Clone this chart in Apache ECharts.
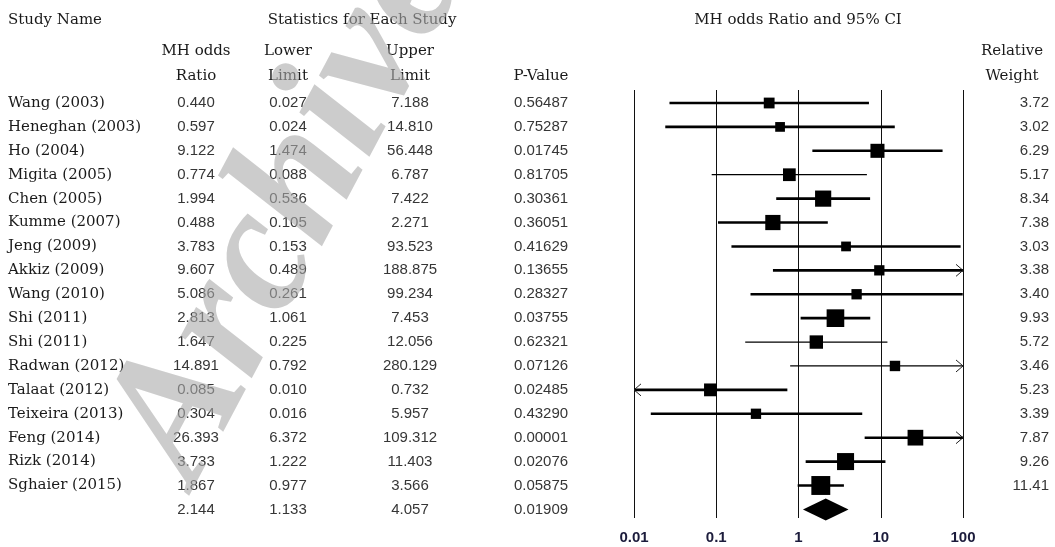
<!DOCTYPE html>
<html>
<head>
<meta charset="utf-8">
<script src="https://cdn.jsdelivr.net/npm/echarts@6/dist/echarts.min.js"></script>
<style>
  html, body { margin: 0; padding: 0; background: #ffffff; }
  #chart { width: 1055px; height: 547px; }
</style>
</head>
<body>
<div id="chart"></div>
<script>
// Study-level results (Mantel-Haenszel odds ratios with 95% CI)
const studies = [
  'Wang (2003)', 'Heneghan (2003)', 'Ho (2004)', 'Migita (2005)', 'Chen (2005)',
  'Kumme (2007)', 'Jeng (2009)', 'Akkiz (2009)', 'Wang (2010)', 'Shi (2011)',
  'Shi (2011)', 'Radwan (2012)', 'Talaat (2012)', 'Teixeira (2013)', 'Feng (2014)',
  'Rizk (2014)', 'Sghaier (2015)'
];
const oddsRatio = [0.440, 0.597, 9.122, 0.774, 1.994, 0.488, 3.783, 9.607, 5.086, 2.813,
  1.647, 14.891, 0.085, 0.304, 26.393, 3.733, 1.867];
const lowerLimit = [0.027, 0.024, 1.474, 0.088, 0.536, 0.105, 0.153, 0.489, 0.261, 1.061,
  0.225, 0.792, 0.010, 0.016, 6.372, 1.222, 0.977];
const upperLimit = [7.188, 14.810, 56.448, 6.787, 7.422, 2.271, 93.523, 188.875, 99.234, 7.453,
  12.056, 280.129, 0.732, 5.957, 109.312, 11.403, 3.566];
const pValue = [0.56487, 0.75287, 0.01745, 0.81705, 0.30361, 0.36051, 0.41629, 0.13655, 0.28327,
  0.03755, 0.62321, 0.07126, 0.02485, 0.43290, 0.00001, 0.02076, 0.05875];
const relativeWeight = [3.72, 3.02, 6.29, 5.17, 8.34, 7.38, 3.03, 3.38, 3.40, 9.93,
  5.72, 3.46, 5.23, 3.39, 7.87, 9.26, 11.41];

// Pooled estimate: [odds ratio, lower, upper, p-value]
const pooled = [2.144, 1.133, 4.057, 0.01909];

// Log-scale ticks of the forest plot
const axisTicks = [0.01, 0.1, 1, 10, 100];

// ---- layout and style ----
const SERIF = '"DejaVu Serif", serif';
const SANS = '"Liberation Sans", Arial, sans-serif';
const NUM_FONT = '15px ' + SANS;
const NUM_COLOR = '#363636';
const HEAD_COLOR = '#1a1a1a';
const thinRows = new Set([3, 10, 11]);       // rows drawn with a hairline CI
const col = { name: 8, or: 196, lo: 288, up: 410, p: 541, w: 1049 };
const xMin = axisTicks[0], xMax = axisTicks[axisTicks.length - 1];
const nRows = studies.length;                 // pooled row sits at index nRows

const tableRows = [];
for (let i = 0; i < nRows; i++) {
  tableRows.push([oddsRatio[i], i, lowerLimit[i], upperLimit[i], pValue[i], relativeWeight[i]]);
}
const pooledRow = [pooled[0], nRows, pooled[1], pooled[2], pooled[3]];

function numText(x, y, text, align) {
  return {
    type: 'text', x: x, y: y,
    style: { text: text, font: NUM_FONT, fill: NUM_COLOR, align: align || 'center', verticalAlign: 'middle' }
  };
}

function chevron(x, y, dir) {
  // open arrow head marking a CI that runs past the axis
  const d = 7 * dir;
  return {
    type: 'polyline',
    shape: { points: [[x - d, y - 6], [x, y], [x - d, y + 6]] },
    style: { stroke: '#222', lineWidth: 1, fill: null }
  };
}

const chart = echarts.init(document.getElementById('chart'), null, { renderer: 'canvas' });

const headerText = (x, y, text, align) => ({
  type: 'text', x: x, y: y, z: 10,
  style: { text: text, font: '15px ' + SERIF, fill: HEAD_COLOR, align: align || 'center', verticalAlign: 'middle' }
});

chart.setOption({
  animation: false,
  backgroundColor: '#ffffff',
  grid: { left: 634, width: 329, top: 90, height: 428, containLabel: false },
  xAxis: {
    type: 'log', logBase: 10, min: xMin, max: xMax,
    axisLine: { show: false },
    axisTick: { show: false },
    splitLine: { show: true, lineStyle: { color: '#111', width: 1 } },
    axisLabel: {
      margin: 12,
      fontFamily: SANS, fontWeight: 'bold', fontSize: 15, color: '#1c1c3c',
      formatter: v => String(+v.toPrecision(6))
    }
  },
  yAxis: {
    type: 'value', inverse: true, min: -0.544, max: 17.36, show: false
  },
  series: [
    {
      // confidence intervals and weighted point estimates
      type: 'custom',
      data: tableRows,
      encode: { x: 0, y: 1 },
      z: 3,
      renderItem(params, api) {
        const or = api.value(0), i = api.value(1), lo = api.value(2), up = api.value(3), w = api.value(5);
        const y = api.coord([or, i])[1];
        const x0 = api.coord([Math.max(lo, xMin), i])[0];
        const x1 = api.coord([Math.min(up, xMax), i])[0];
        const xm = api.coord([or, i])[0];
        const size = 5.6 * Math.sqrt(w);
        const children = [{
          type: 'line',
          shape: { x1: x0, y1: y, x2: x1, y2: y },
          style: { stroke: '#000', lineWidth: thinRows.has(i) ? 1.2 : 2.6 }
        }, {
          type: 'rect',
          shape: { x: xm - size / 2, y: y - size / 2, width: size, height: size },
          style: { fill: '#000' }
        }];
        if (up > xMax) children.push(chevron(x1, y, 1));
        if (lo <= xMin) children.push(chevron(x0, y, -1));
        return { type: 'group', children: children };
      }
    },
    {
      // pooled estimate diamond
      type: 'custom',
      data: [pooledRow],
      encode: { x: 0, y: 1 },
      z: 3,
      renderItem(params, api) {
        const i = api.value(1);
        const c = api.coord([api.value(0), i]);
        const l = api.coord([api.value(2), i])[0];
        const r = api.coord([api.value(3), i])[0];
        return {
          type: 'polygon',
          shape: { points: [[l, c[1]], [c[0], c[1] - 11], [r, c[1]], [c[0], c[1] + 11]] },
          style: { fill: '#000' }
        };
      }
    },
    {
      // statistics table, one line per study
      type: 'custom',
      data: tableRows,
      encode: { x: 0, y: 1 },
      z: 2,
      clip: false,
      renderItem(params, api) {
        const i = api.value(1);
        const y = api.coord([1, i])[1];
        return {
          type: 'group',
          children: [
            { type: 'text', x: col.name, y: y,
              style: { text: studies[i], font: '15px ' + SERIF, fill: HEAD_COLOR, align: 'left', verticalAlign: 'middle' } },
            numText(col.or, y, api.value(0).toFixed(3)),
            numText(col.lo, y, api.value(2).toFixed(3)),
            numText(col.up, y, api.value(3).toFixed(3)),
            numText(col.p, y, api.value(4).toFixed(5)),
            numText(col.w, y, api.value(5).toFixed(2), 'right')
          ]
        };
      }
    },
    {
      // pooled line of the table
      type: 'custom',
      data: [pooledRow],
      encode: { x: 0, y: 1 },
      z: 2,
      clip: false,
      renderItem(params, api) {
        const y = api.coord([1, api.value(1)])[1];
        return {
          type: 'group',
          children: [
            numText(col.or, y, api.value(0).toFixed(3)),
            numText(col.lo, y, api.value(2).toFixed(3)),
            numText(col.up, y, api.value(3).toFixed(3)),
            numText(col.p, y, api.value(4).toFixed(5))
          ]
        };
      }
    }
  ],
  graphic: [
    headerText(col.name, 20, 'Study Name', 'left'),
    headerText(362, 20, 'Statistics for Each Study'),
    headerText(798, 20, 'MH odds Ratio and 95% CI'),
    headerText(col.or, 51, 'MH odds'),
    headerText(col.or, 76, 'Ratio'),
    headerText(col.lo, 51, 'Lower'),
    headerText(col.lo, 76, 'Limit'),
    headerText(col.up, 51, 'Upper'),
    headerText(col.up, 76, 'Limit'),
    headerText(col.p, 76, 'P-Value'),
    headerText(1012, 51, 'Relative'),
    headerText(1012, 76, 'Weight'),
    {
      type: 'text', x: 232, y: 508, z: 100, rotation: 62 * Math.PI / 180,
      style: {
        text: 'Archive', font: 'italic bold 180px "Liberation Serif", serif',
        fill: 'rgba(170,170,170,0.6)', align: 'left', verticalAlign: 'bottom'
      }
    }
  ]
});
</script>
</body>
</html>
